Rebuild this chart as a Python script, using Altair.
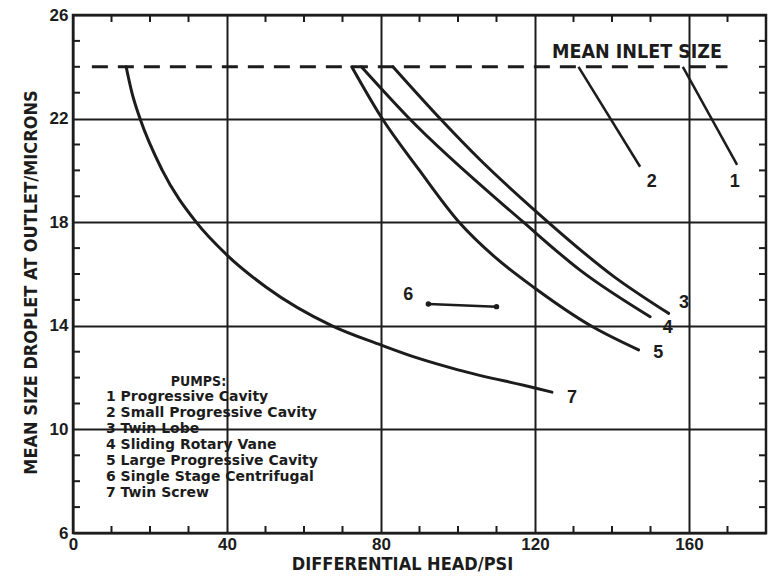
import altair as alt
import pandas as pd

# ---- pump curves: differential head (psi) vs mean outlet droplet size (microns)
pump3_head = [83.1, 94.9, 105.8, 120.0, 140.5, 154.7]
pump3_size = [24.0, 22.07, 20.4, 18.45, 15.9, 14.48]

pump4_head = [74.9, 86.9, 117.0, 131.7, 149.9]
pump4_size = [24.0, 22.07, 18.0, 16.15, 14.35]

pump5_head = [72.4, 80.0, 90.0, 100.3, 110.0, 120.0, 134.5, 146.9]
pump5_size = [24.0, 22.07, 20.0, 18.0, 16.6, 15.45, 14.0, 13.07]

pump6_head = [92.3, 110.0]
pump6_size = [14.84, 14.74]

pump7_head = [13.8, 15.3, 17.4, 23.2, 32.0, 40.0, 50.1, 67.3, 80.0, 89.6, 100.0, 120.0, 124.4]
pump7_size = [24.0, 23.0, 22.0, 20.0, 18.0, 16.73, 15.5, 14.0, 13.26, 12.75, 12.3, 11.6, 11.44]

# mean inlet droplet size (dashed reference line)
inlet_size = 24.0
inlet_head_span = [4.9, 170.0]

# pumps 1 and 2 sit on the inlet line: leader lines from the line to their numbers
leader_pump = ["2", "1"]
leader_head_from = [131.3, 158.4]
leader_size_from = [24.0, 24.0]
leader_head_to = [147.3, 172.5]
leader_size_to = [20.14, 20.21]

# curve number labels
label_text = ["1", "2", "3", "4", "5", "6", "7"]
label_head = [171.9, 150.3, 158.7, 154.5, 152.0, 87.1, 129.6]
label_size = [19.55, 19.56, 14.88, 13.92, 12.95, 15.19, 11.21]

# pump key
pump_numbers = ["1", "2", "3", "4", "5", "6", "7"]
pump_names = [
    "Progressive  Cavity",
    "Small  Progressive  Cavity",
    "Twin  Lobe",
    "Sliding  Rotary  Vane",
    "Large  Progressive  Cavity",
    "Single  Stage  Centrifugal",
    "Twin  Screw",
]

# axes
x_major = [0, 40, 80, 120, 160]
y_major = [6, 10, 14, 18, 22, 26]
x_minor = [v for v in range(10, 180, 10) if v % 40 != 0]
y_minor = [v for v in range(7, 26) if (v - 6) % 4 != 0]

W, H = 693, 518
INK = "#1c1c1c"
NARROW = "'Liberation Sans Narrow', 'DejaVu Sans Condensed', 'Liberation Sans', sans-serif"
SANS = "'Liberation Sans', Arial, sans-serif"
HEAVY = "'DejaVu Sans', sans-serif"

xs = alt.Scale(domain=[0, 180], nice=False, zero=False)
ys = alt.Scale(domain=[6, 26], nice=False, zero=False)

# ---- tables
rows = []
for pid, hx, sy in [("3", pump3_head, pump3_size), ("4", pump4_head, pump4_size),
                    ("5", pump5_head, pump5_size), ("6", pump6_head, pump6_size),
                    ("7", pump7_head, pump7_size)]:
    for i, (a, b) in enumerate(zip(hx, sy)):
        rows.append({"pump": pid, "x": a, "y": b, "i": i})
curves = pd.DataFrame(rows)
curves_smooth = curves[curves["pump"] != "6"]
centrifugal = curves[curves["pump"] == "6"]

inlet = pd.DataFrame({"x": [inlet_head_span[0]], "x2": [inlet_head_span[1]], "y": [inlet_size]})
leaders = pd.DataFrame({"pump": leader_pump, "x": leader_head_from, "y": leader_size_from,
                        "x2": leader_head_to, "y2": leader_size_to})
labels = pd.DataFrame({"t": label_text, "x": label_head, "y": label_size})
key = pd.DataFrame({"t": ["\n".join(f"{n} {s}" for n, s in zip(pump_numbers, pump_names))]})
xminor = pd.DataFrame({"x": x_minor})
yminor = pd.DataFrame({"y": y_minor})

x_axis = alt.Axis(values=x_major, title="DIFFERENTIAL HEAD/PSI", titleX=329, titleY=31,
                  titleBaseline="middle", titleAlign="center", labelFlush=False,
                  labelPadding=3, grid=True, ticks=False, domain=False)
y_axis = alt.Axis(values=y_major, title="MEAN SIZE DROPLET AT OUTLET/MICRONS", titleX=-42,
                  titleY=267, titleAngle=-90, titleBaseline="middle", titleAlign="center",
                  labelFlush=False, labelPadding=5, grid=True, ticks=False, domain=False)

lines = alt.Chart(curves_smooth).mark_line(
    color=INK, strokeWidth=3, interpolate="monotone", strokeCap="round"
).encode(
    x=alt.X("x:Q", scale=xs, axis=x_axis),
    y=alt.Y("y:Q", scale=ys, axis=y_axis),
    detail="pump:N",
    order="i:Q",
)

seg6 = alt.Chart(centrifugal).mark_line(color=INK, strokeWidth=2.5).encode(
    x=alt.X("x:Q", scale=xs), y=alt.Y("y:Q", scale=ys), order="i:Q")
dots6 = alt.Chart(centrifugal).mark_circle(color=INK, size=30, opacity=1).encode(
    x=alt.X("x:Q", scale=xs), y=alt.Y("y:Q", scale=ys))

inlet_line = alt.Chart(inlet).mark_rule(color=INK, strokeWidth=3, strokeDash=[16, 10]).encode(
    x=alt.X("x:Q", scale=xs), x2="x2:Q", y=alt.Y("y:Q", scale=ys))

leader_lines = alt.Chart(leaders).mark_rule(color=INK, strokeWidth=2.5).encode(
    x=alt.X("x:Q", scale=xs), y=alt.Y("y:Q", scale=ys), x2="x2:Q", y2="y2:Q")

inlet_text = alt.Chart(inlet).mark_text(
    text="MEAN INLET SIZE", font=NARROW, fontSize=19.5, fontWeight="bold", color=INK,
    align="center", baseline="middle"
).encode(x=alt.datum(146.5), y=alt.datum(24.57))

curve_labels = alt.Chart(labels).mark_text(
    font=SANS, fontSize=18, fontWeight="bold", color=INK, align="center", baseline="middle"
).encode(x=alt.X("x:Q", scale=xs), y=alt.Y("y:Q", scale=ys), text="t:N")

key_title = alt.Chart(key).mark_text(
    text="PUMPS:", font=NARROW, fontSize=14, fontWeight="bold", color=INK,
    align="center", baseline="middle"
).encode(x=alt.datum(32.6), y=alt.datum(11.83))

# first line of the key sits at the given y, the rest follow at lineHeight
key_body = alt.Chart(key).mark_text(
    font=HEAVY, fontSize=14, fontWeight="bold", color=INK, align="left",
    baseline="middle", lineBreak="\n", lineHeight=16
).encode(x=alt.datum(8.57), y=alt.datum(11.25), text="t:N")

# inward minor ticks on all four sides of the frame
TL = 7
tick_top = alt.Chart(xminor).mark_rule(color=INK, strokeWidth=2).encode(
    x=alt.X("x:Q", scale=xs), y=alt.value(0), y2=alt.value(TL))
tick_bottom = alt.Chart(xminor).mark_rule(color=INK, strokeWidth=2).encode(
    x=alt.X("x:Q", scale=xs), y=alt.value(H), y2=alt.value(H - TL))
tick_left = alt.Chart(yminor).mark_rule(color=INK, strokeWidth=2).encode(
    y=alt.Y("y:Q", scale=ys), x=alt.value(0), x2=alt.value(TL))
tick_right = alt.Chart(yminor).mark_rule(color=INK, strokeWidth=2).encode(
    y=alt.Y("y:Q", scale=ys), x=alt.value(W), x2=alt.value(W - TL))

chart = alt.layer(
    lines, tick_top, tick_bottom, tick_left, tick_right, inlet_line, leader_lines,
    seg6, dots6, inlet_text, curve_labels, key_title, key_body
).properties(
    width=W, height=H,
    padding={"left": 73, "top": 15, "right": 7, "bottom": 44},
    autosize=alt.AutoSizeParams(type="none"),
    background="white",
).configure_view(
    stroke=INK, strokeWidth=2.5
).configure_axis(
    gridColor=INK, gridWidth=2, gridOpacity=1,
    labelFont=SANS, labelFontSize=17, labelFontWeight="bold", labelColor=INK,
    titleFont=NARROW, titleFontSize=18, titleFontWeight="bold", titleColor=INK,
)

chart.save("out.html", embed_options={"renderer": "svg", "actions": False})
